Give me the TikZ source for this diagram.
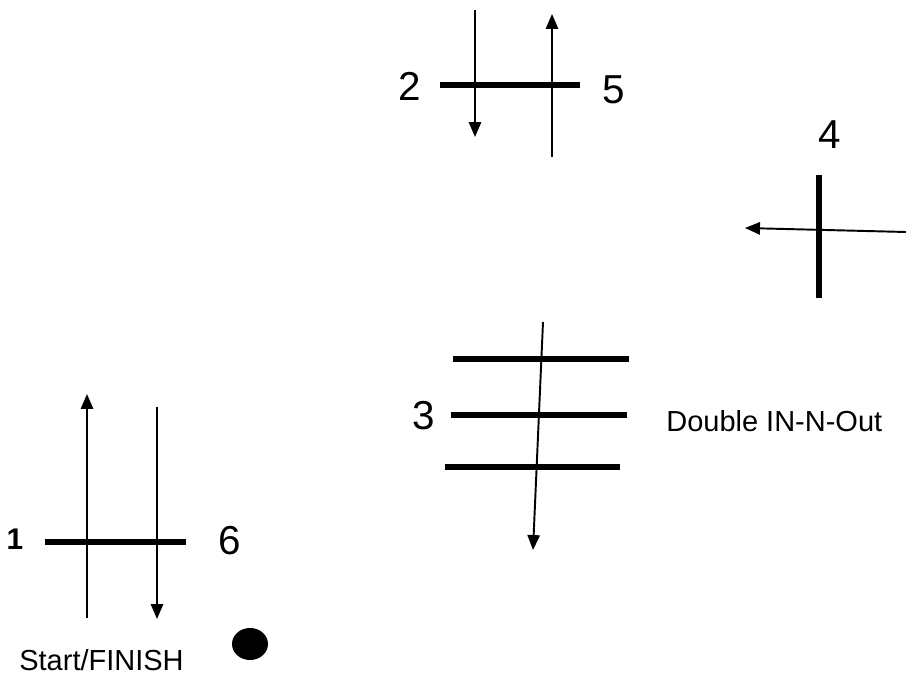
\documentclass[tikz,border=0pt]{standalone}
\usepackage{fontspec}
\setsansfont{Liberation Sans}
\usetikzlibrary{arrows.meta,positioning,calc}

\begin{document}
\begin{tikzpicture}[x=0.02cm, y=-0.02cm,
  font=\sffamily,
  bar/.style={line width=2.9pt, draw=black},
  arr/.style={-{Triangle[length=8.5pt, width=7pt]}, line width=1.1pt, draw=black},
  num/.style={font=\sffamily\fontsize{23}{26}\selectfont, inner sep=0pt},
  note/.style={font=\sffamily\fontsize{16.5}{19}\selectfont, inner sep=0pt},
]
\useasboundingbox (0,0) rectangle (906,675);

% Station 2 / 5
\coordinate (b25w) at (440,85);
\coordinate (b25e) at (580,85);
\coordinate (a2s) at (475,10);
\coordinate (a2e) at (475,137);
\coordinate (a5s) at (552,157);
\coordinate (a5e) at (552,14);
\draw[bar] (b25w) -- (b25e);
\draw[arr] (a2s) -- (a2e);
\draw[arr] (a5s) -- (a5e);
\node[num] (two) at (410,86) {2};
\node[num] (five) at (614,90) {5};

% Station 4
\coordinate (b4n) at (819,175);
\coordinate (b4s) at (819,298);
\coordinate (a4s) at (906,232);
\coordinate (a4e) at (745,228);
\draw[bar] (b4n) -- (b4s);
\draw[arr] (a4s) -- (a4e);
\node[num] (four) at (830,135) {4};

% Station 3
\coordinate (b3aw) at (453,359);
\coordinate (b3ae) at (629,359);
\coordinate (b3bw) at (451,415);
\coordinate (b3be) at (627,415);
\coordinate (b3cw) at (445,467);
\coordinate (b3ce) at (620,467);
\coordinate (a3s) at (543,322);
\coordinate (a3e) at (533,550);
\draw[bar] (b3aw) -- (b3ae);
\draw[bar] (b3bw) -- (b3be);
\draw[bar] (b3cw) -- (b3ce);
\draw[arr] (a3s) -- (a3e);
\node[num] (three) at (424,416) {3};
\node[note, anchor=west] (dbl) at (666,421) {Double IN-N-Out};

% Station 1 / 6
\coordinate (b16w) at (45,542);
\coordinate (b16e) at (186,542);
\coordinate (a1s) at (87,618);
\coordinate (a1e) at (87,394);
\coordinate (a6s) at (157,407);
\coordinate (a6e) at (157,619);
\draw[bar] (b16w) -- (b16e);
\draw[arr] (a1s) -- (a1e);
\draw[arr] (a6s) -- (a6e);
\node[note, font=\sffamily\bfseries\fontsize{17}{19}\selectfont] (one) at (15,539) {1};
\node[num] (six) at (230,541) {6};
\node[note, anchor=west] (start) at (19,660) {Start/FINISH};
\fill[black] (250,644) ellipse (18 and 16);

\end{tikzpicture}
\end{document}
